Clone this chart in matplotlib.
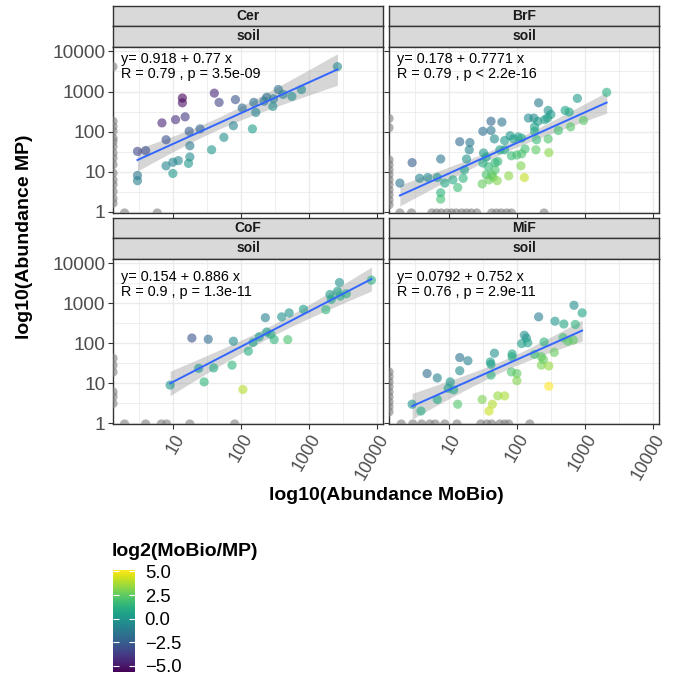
import numpy as np
import matplotlib
matplotlib.use('Agg')
from matplotlib import pyplot as plt
from matplotlib import colors, cm
from matplotlib import transforms
from matplotlib.ticker import FixedLocator, NullFormatter, FixedFormatter

plt.rcParams['font.family'] = ['Liberation Sans', 'DejaVu Sans']

# log10 abundances of particles found by both methods
cer_mobio = [3.42, 2.55, 2.38, 2.34, 2.48, 2.62, 2.75, 2.89, 2.47, 2.19, 2.02, 2.22, 1.92,
             1.68, 1.61, 1.14, 1.14, 1.18, 1.04, 0.84, 1.24, 1.40, 0.90, 1.25, 1.89, 1.75,
             2.17, 1.57, 0.48, 0.60, 0.90, 1.00, 1.08, 1.25, 1.23, 1.00, 0.48, 0.48]
cer_mp = [3.62, 3.05, 2.86, 2.76, 2.82, 2.93, 2.88, 3.05, 2.63, 2.73, 2.59, 2.48, 2.80,
          2.73, 2.96, 2.84, 2.72, 2.37, 2.30, 2.22, 2.01, 2.07, 1.80, 1.65, 2.15, 1.86,
          2.07, 1.55, 1.51, 1.53, 1.15, 1.24, 1.28, 1.37, 1.21, 0.96, 0.91, 0.78]
cer_mp_only = [3.62, 2.26, 2.13, 2.01, 1.84, 1.76, 1.63, 1.47, 1.34, 1.18, 0.97, 0.80,
               0.68, 0.51, 0.34, 0.22]
cer_mobio_only = [0.29, 0.77]

brf_mobio = [3.32, 2.89, 2.32, 2.71, 2.77, 2.46, 2.50, 2.45, 2.41, 2.17, 2.25, 2.31, 2.98,
             2.79, 2.61, 2.26, 2.26, 1.62, 1.78, 1.50, 1.62, 1.67, 1.82, 1.90, 1.95, 2.02,
             2.07, 2.29, 2.46, 1.16, 1.31, 1.30, 0.88, 1.26, 1.51, 1.55, 1.50, 1.72, 1.75,
             1.82, 1.92, 2.00, 2.12, 2.07, 2.28, 2.47, 0.46, 0.57, 0.69, 0.83, 0.94, 1.06,
             1.13, 1.21, 1.23, 1.58, 1.68, 1.63, 1.55, 1.59, 1.65, 1.49, 1.71, 1.88, 2.11,
             2.06, 0.88, 0.88, 0.28, 1.68]
brf_mp = [2.98, 2.83, 2.72, 2.53, 2.49, 2.53, 2.43, 2.34, 2.30, 2.34, 2.34, 2.26, 2.28,
          2.12, 2.03, 2.12, 2.01, 2.26, 2.24, 2.01, 2.03, 1.82, 1.78, 1.90, 1.82, 1.87,
          1.84, 1.80, 1.82, 1.75, 1.73, 1.55, 1.32, 1.32, 1.47, 1.37, 1.22, 1.26, 1.55,
          1.55, 1.40, 1.42, 1.57, 1.45, 1.55, 1.48, 1.23, 0.84, 0.86, 0.86, 0.72, 0.80,
          0.61, 0.84, 1.05, 1.13, 1.05, 0.93, 0.93, 0.80, 0.87, 0.70, 0.78, 0.90, 0.86,
          1.15, 0.48, 0.32, 0.72, 1.23]
brf_mp_only = [2.33, 2.10, 1.30, 1.18, 1.05, 0.93, 0.80, 0.68, 0.55, 0.43, 0.30, 0.18]
brf_mobio_only = [0.28, 0.45, 0.75, 0.82, 0.89, 0.97, 1.04, 1.11, 1.19, 1.26, 1.33, 1.41,
                  1.63, 1.70, 1.77, 1.85, 1.92, 2.40]

cof_mobio = [3.92, 3.45, 3.42, 3.31, 3.33, 3.46, 3.55, 3.25, 2.92, 2.71, 2.60, 2.36, 2.38,
             2.44, 2.49, 2.69, 2.27, 2.18, 2.11, 1.89, 1.87, 1.60, 1.38, 1.46, 0.96, 1.28,
             1.52, 2.03]
cof_mp = [3.58, 3.52, 3.30, 3.22, 3.10, 3.18, 3.24, 2.84, 2.85, 2.76, 2.66, 2.64, 2.28,
          2.22, 2.09, 2.09, 2.16, 2.02, 1.80, 2.05, 1.45, 1.38, 1.37, 1.03, 0.95, 2.13,
          2.10, 0.84]
cof_mp_only = [1.62, 1.45, 1.28, 0.78, 0.66, 0.49]
cof_mobio_only = [0.29, 0.60, 0.83, 0.91, 1.25, 1.91]

mif_mobio = [2.84, 2.96, 2.32, 2.56, 2.69, 2.86, 2.11, 2.14, 2.07, 2.16, 2.40, 2.68, 2.75,
             2.83, 2.55, 2.26, 2.36, 2.36, 2.47, 1.93, 1.93, 1.61, 1.62, 1.67, 1.28, 1.16,
             1.16, 1.62, 1.92, 2.00, 2.00, 0.68, 0.83, 1.02, 0.99, 1.07, 0.83, 1.13, 1.49,
             1.64, 1.59, 1.72, 1.82, 2.47, 0.46, 0.59, 2.39]
mif_mp = [2.95, 2.76, 2.66, 2.55, 2.48, 2.47, 2.20, 2.13, 1.99, 2.01, 2.03, 2.14, 2.05,
          2.08, 1.77, 1.72, 1.66, 1.45, 1.43, 1.73, 1.66, 1.53, 1.47, 1.75, 1.56, 1.64,
          1.31, 1.20, 1.28, 1.24, 1.06, 1.24, 1.13, 1.03, 0.87, 0.83, 0.59, 0.47, 0.59,
          0.47, 0.30, 0.68, 0.68, 0.92, 0.47, 0.30, 1.59]
mif_mp_only = [1.28, 1.16, 1.03, 0.91, 0.78, 0.66, 0.53, 0.41, 0.28]
mif_mobio_only = [0.30, 0.47, 0.60, 0.72, 0.80, 0.94, 1.12, 1.47, 1.56, 1.63, 1.75, 1.82,
                  1.88, 2.19]

sites = ['Cer', 'BrF', 'CoF', 'MiF']
eq_labels = ['y= 0.918 + 0.77 x', 'y= 0.178 + 0.7771 x',
             'y= 0.154 + 0.886 x', 'y= 0.0792 + 0.752 x']
stat_labels = ['R = 0.79 , p = 3.5e-09', 'R = 0.79 , p < 2.2e-16',
               'R = 0.9 , p = 1.3e-11', 'R = 0.76 , p = 2.9e-11']

data = [
    (cer_mobio, cer_mp, cer_mp_only, cer_mobio_only),
    (brf_mobio, brf_mp, brf_mp_only, brf_mobio_only),
    (cof_mobio, cof_mp, cof_mp_only, cof_mobio_only),
    (mif_mobio, mif_mp, mif_mp_only, mif_mobio_only),
]

W, H = 675, 676
XMIN, XMAX = 0.12, 4.09
YMIN, YMAX = -0.025, 4.11


def box(x, y, w, h):
    # pixel box (top-left origin) -> figure fraction
    return [x / W, 1 - (y + h) / H, w / W, h / H]


def t975(df):
    z = 1.959964
    return z + (z**3 + z) / (4 * df) + (5 * z**5 + 16 * z**3 + 3 * z) / (96 * df**2)


ratios = np.concatenate([(np.array(a) - np.array(b)) * np.log2(10) for a, b, _, _ in data])
norm = colors.Normalize(vmin=ratios.min(), vmax=ratios.max())
cmap = plt.get_cmap('viridis')

fig = plt.figure(figsize=(W / 100, H / 100), dpi=100)

cols = [113, 389]
rows = [(6, 47, 166), (218, 259, 165)]

for i, site in enumerate(sites):
    r, c = divmod(i, 2)
    strip_top, panel_top, panel_h = rows[r]
    x0 = cols[c]
    mobio, mp, mp_only, mobio_only = [np.array(v) for v in data[i]]

    # strips
    for k, (lab, top) in enumerate([(site, strip_top), ('soil', strip_top + 20)]):
        sa = fig.add_axes(box(x0, top, 270, 20 if k == 0 else panel_top - top))
        sa.set_facecolor('#D9D9D9')
        sa.set_xticks([])
        sa.set_yticks([])
        for sp in sa.spines.values():
            sp.set_color('#333333')
            sp.set_linewidth(1.0)
        sa.text(0.5, 0.5, lab, ha='center', va='center', fontsize=10,
                fontweight='bold', color='#1A1A1A', transform=sa.transAxes)

    ax = fig.add_axes(box(x0, panel_top, 270, panel_h))
    ax.set_xscale('log')
    ax.set_yscale('log')
    ax.set_xlim(10**XMIN, 10**XMAX)
    ax.set_ylim(10**YMIN, 10**YMAX)

    ax.xaxis.set_major_locator(FixedLocator([10, 100, 1000, 10000]))
    ax.yaxis.set_major_locator(FixedLocator([1, 10, 100, 1000, 10000]))
    ax.xaxis.set_minor_locator(FixedLocator([10**(k + 0.5) for k in range(0, 4)]))
    ax.yaxis.set_minor_locator(FixedLocator([10**(k + 0.5) for k in range(0, 4)]))
    ax.xaxis.set_minor_formatter(NullFormatter())
    ax.yaxis.set_minor_formatter(NullFormatter())
    ax.xaxis.set_major_formatter(FixedFormatter(['10', '100', '1000', '10000']))
    ax.yaxis.set_major_formatter(FixedFormatter(['1', '10', '100', '1000', '10000']))
    ax.grid(True, which='major', color='#EBEBEB', linewidth=1.0)
    ax.grid(True, which='minor', color='#EBEBEB', linewidth=0.6)
    ax.set_axisbelow(True)
    ax.tick_params(which='minor', length=0)
    ax.tick_params(which='major', length=3.5, width=0.8, color='#333333',
                   labelcolor='#4D4D4D', labelsize=13.8, pad=2)
    for sp in ax.spines.values():
        sp.set_color('#333333')
        sp.set_linewidth(1.0)

    if c == 1:
        ax.tick_params(axis='y', labelleft=False)
    if r == 0:
        ax.tick_params(axis='x', labelbottom=False)
    else:
        ax.tick_params(axis='x', pad=4.5, labelsize=12.8)
        shift = transforms.ScaledTranslation(8 / 100, 0, fig.dpi_scale_trans)
        for lab in ax.get_xticklabels():
            lab.set_rotation(60)
            lab.set_ha('right')
            lab.set_va('center')
            lab.set_rotation_mode('anchor')
            lab.set_transform(lab.get_transform() + shift)

    # zero abundance in one method -> drawn at the panel edge (-Inf)
    ax.scatter(np.full(len(mp_only), 10**XMIN), 10**mp_only, s=44, color='#7F7F7F',
               alpha=0.6, edgecolors='none', zorder=3)
    ax.scatter(10**mobio_only, np.full(len(mobio_only), 10**YMIN), s=44, color='#7F7F7F',
               alpha=0.6, edgecolors='none', zorder=3)

    # regression in log space
    n = len(mobio)
    slope, icpt = np.polyfit(mobio, mp, 1)
    resid = mp - (icpt + slope * mobio)
    s = np.sqrt(np.sum(resid**2) / (n - 2))
    xs = np.linspace(mobio.min(), mobio.max(), 80)
    se = s * np.sqrt(1 / n + (xs - mobio.mean())**2 / np.sum((mobio - mobio.mean())**2))
    fit = icpt + slope * xs
    tq = t975(n - 2)
    ax.fill_between(10**xs, 10**(fit - tq * se), 10**(fit + tq * se), color='#999999',
                    alpha=0.4, linewidth=0, zorder=2)

    ratio = (mobio - mp) * np.log2(10)
    ax.scatter(10**mobio, 10**mp, s=44, c=ratio, cmap=cmap, norm=norm, alpha=0.6,
               edgecolors='none', zorder=3)
    ax.plot(10**xs, 10**fit, color='#3366FF', linewidth=1.4, zorder=4)

    ty = 0.928 if r == 0 else 0.89
    ax.text(0.03, ty, eq_labels[i], transform=ax.transAxes, fontsize=10.4,
            ha='left', va='center', color='black', zorder=5)
    ax.text(0.03, ty - 0.09, stat_labels[i], transform=ax.transAxes, fontsize=10.4,
            ha='left', va='center', color='black', zorder=5)

fig.text(25 / W, 1 - 237 / H, 'log10(Abundance MP)', rotation=90, ha='center',
         va='center', fontsize=14, fontweight='bold')
fig.text(386 / W, 1 - 495 / H, 'log10(Abundance MoBio)', ha='center', va='center',
         fontsize=14, fontweight='bold')

# colour legend
fig.text(112 / W, 1 - 551 / H, 'log2(MoBio/MP)', ha='left', va='center', fontsize=14,
         fontweight='bold')
cax = fig.add_axes(box(113, 570, 22, 102))
cb = fig.colorbar(cm.ScalarMappable(norm=norm, cmap=cmap), cax=cax)
cb.outline.set_visible(False)
cb.set_ticks([-5, -2.5, 0, 2.5, 5])
cb.set_ticklabels(['\u22125.0', '\u22122.5', '0.0', '2.5', '5.0'])
cax.tick_params(direction='in', color='white', length=4, width=0.8, left=True,
                right=True, labelsize=13.3, pad=7)

fig.savefig('out.png', dpi=100)
